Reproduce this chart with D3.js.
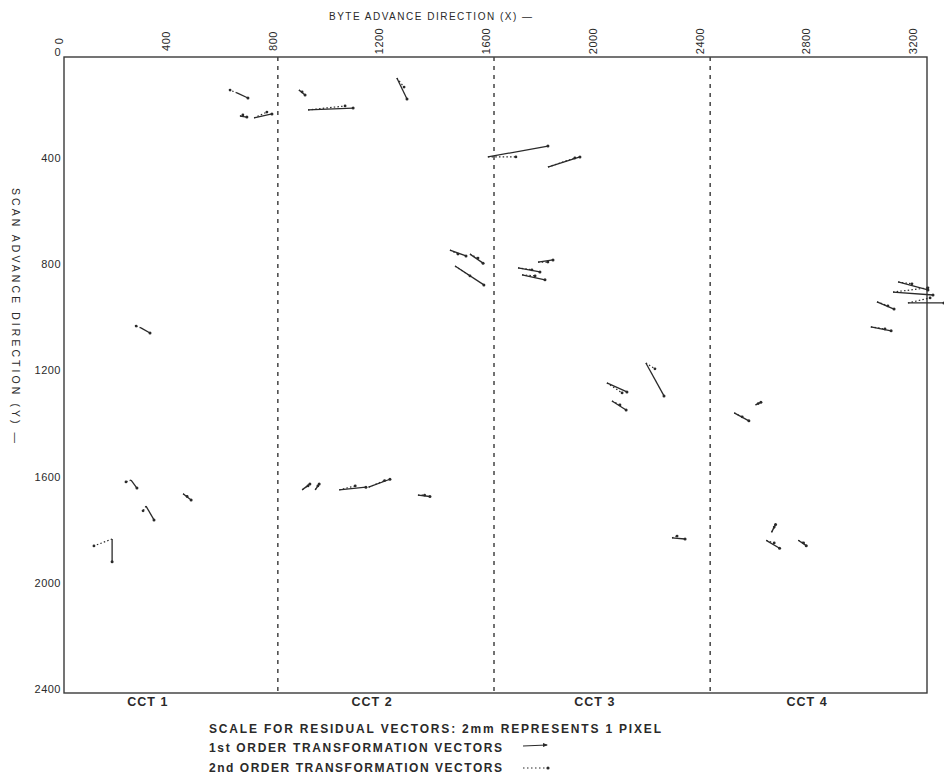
<!DOCTYPE html>
<html><head><meta charset="utf-8">
<script src="https://cdn.jsdelivr.net/npm/d3@7"></script>
<style>body{margin:0;background:#fff}svg{display:block}</style>
</head><body><svg id="c" width="944" height="779"></svg>
<script>
const xTicks=[0,400,800,1200,1600,2000,2400,2800,3200];
const yTicks=[0,400,800,1200,1600,2000,2400];
const cctBoundaries=[820,1630,2440];
const cctLabels=["CCT 1","CCT 2","CCT 3","CCT 4"];
const cctCenters=[333,1173,2008,2803];
const controlPoints=[[667,155],[678,242],[731,249],[899,144],[933,219],[1266,99],
[270,1613],[326,1711],[465,1665],[199,1835],[307,1040],
[2053,1247],[2072,1315],[2199,1172],[2297,1831],
[3144,867],[3125,905],[3181,946],[3065,942],[3042,1036],
[1607,396],[1832,434],
[1465,747],[1540,762],[1484,807],
[1720,814],[1735,840],[1795,792],
[911,1650],[960,1650],[1050,1650],[1160,1640],[1345,1670],
[2530,1360],[2610,1330],[2650,1840],[2670,1810],[2770,1840]];
const firstOrderEnds=[[708,174],[704,246],[798,234],[922,163],[1102,212],[1304,178],
[292,1643],[356,1763],[495,1688],[199,1921],[341,1059],
[2128,1281],[2125,1349],[2267,1296],[2346,1835],
[3256,897],[3275,916],[3316,946],[3129,969],[3118,1051],
[1832,355],[1952,396],
[1525,769],[1589,796],[1592,878],
[1802,829],[1821,859],[1851,784],
[940,1628],[975,1628],[1150,1640],[1240,1610],[1390,1675],
[2585,1390],[2630,1320],[2700,1870],[2685,1780],[2800,1860]];
const secondOrderEnds=[[641,144],[689,238],[779,227],[911,151],[1072,204],[1293,133],
[251,1620],[315,1729],[480,1675],[131,1861],[289,1033],
[2110,1285],[2102,1330],[2233,1194],[2316,1824],
[3196,874],[3256,889],[3264,927],[3106,957],[3095,1044],
[1712,396],[1933,400],
[1495,762],[1570,777],[1540,844],
[1772,821],[1784,844],[1832,792],
[933,1635],[970,1635],[1110,1635],[1220,1615],[1370,1670],
[2560,1375],[2620,1325],[2680,1850],[2680,1790],[2790,1850]];
const legendLines=["SCALE FOR RESIDUAL VECTORS: 2mm REPRESENTS 1 PIXEL","1st ORDER TRANSFORMATION VECTORS","2nd ORDER TRANSFORMATION VECTORS"];

const svg=d3.select("#c");
const ink="#2a2a2a";
const font="'Liberation Sans', Arial, sans-serif";
const x=d3.scaleLinear().domain([0,3200]).range([59,913]);
const y=d3.scaleLinear().domain([0,2400]).range([51.8,689]);
const frame={x0:64,x1:927,y0:57,y1:693};

svg.append("rect").attr("width",944).attr("height",779).attr("fill","#fff");
svg.append("rect").attr("x",frame.x0).attr("y",frame.y0).attr("width",frame.x1-frame.x0).attr("height",frame.y1-frame.y0)
 .attr("fill","none").attr("stroke","#3a3a3a").attr("stroke-width",1.4);
svg.selectAll("line.b").data(cctBoundaries).join("line").attr("class","b")
 .attr("x1",d=>x(d)).attr("x2",d=>x(d)).attr("y1",frame.y0).attr("y2",frame.y1)
 .attr("stroke","#444").attr("stroke-width",1.5).attr("stroke-dasharray","4,5");
svg.selectAll("text.xt").data(xTicks).join("text").attr("class","xt")
 .attr("transform",d=>`translate(${x(d)},41) rotate(-90)`)
 .attr("dominant-baseline","central").attr("text-anchor","middle")
 .attr("font-family",font).attr("font-size",11).attr("fill",ink).attr("letter-spacing",0.5)
 .text(d=>d);
svg.selectAll("text.yt").data(yTicks).join("text").attr("class","yt")
 .attr("x",61).attr("y",d=>y(d)).attr("dominant-baseline","central").attr("text-anchor","end")
 .attr("font-family",font).attr("font-size",11).attr("fill",ink).attr("letter-spacing",0.5)
 .text(d=>d);
svg.append("text").attr("x",329).attr("y",16).attr("dominant-baseline","central")
 .attr("font-family",font).attr("font-size",10).attr("fill",ink)
 .attr("textLength",203).attr("lengthAdjust","spacing").text("BYTE ADVANCE DIRECTION (X) \u2014");
svg.append("text").attr("transform","translate(16,188) rotate(90)").attr("dominant-baseline","central")
 .attr("font-family",font).attr("font-size",10.5).attr("fill",ink)
 .attr("textLength",255).attr("lengthAdjust","spacing").text("SCAN ADVANCE DIRECTION (Y) \u2014");
svg.selectAll("text.cct").data(cctLabels).join("text").attr("class","cct")
 .attr("x",(d,i)=>x(cctCenters[i])).attr("y",702).attr("text-anchor","middle").attr("dominant-baseline","central")
 .attr("font-family",font).attr("font-weight","bold").attr("font-size",12.5).attr("fill",ink).attr("letter-spacing",1)
 .text(d=>d);
const ly=[729,748,768];
svg.selectAll("text.lg").data(legendLines).join("text").attr("class","lg")
 .attr("x",209).attr("y",(d,i)=>ly[i]).attr("dominant-baseline","central")
 .attr("font-family",font).attr("font-weight","bold").attr("font-size",12).attr("fill",ink)
 .attr("textLength",(d,i)=>i==0?452:293).attr("lengthAdjust","spacing")
 .text(d=>d);
svg.append("line").attr("x1",523).attr("x2",547).attr("y1",746).attr("y2",745).attr("stroke",ink).attr("stroke-width",1.2);
svg.append("path").attr("d","M548,745 l-5,-2 l0,4 z").attr("fill",ink);
svg.append("line").attr("x1",523).attr("x2",546).attr("y1",768).attr("y2",768).attr("stroke",ink).attr("stroke-width",1.2).attr("stroke-dasharray","1.5,2.5");
svg.append("circle").attr("cx",548).attr("cy",768).attr("r",1.6).attr("fill",ink);

const vec=controlPoints.map((p,i)=>({p,a:firstOrderEnds[i],b:secondOrderEnds[i]}));
const g=svg.append("g");
g.selectAll("line.v2").data(vec).join("line").attr("class","v2")
 .attr("x1",d=>x(d.p[0])).attr("y1",d=>y(d.p[1])).attr("x2",d=>x(d.b[0])).attr("y2",d=>y(d.b[1]))
 .attr("stroke",ink).attr("stroke-width",1.2).attr("stroke-dasharray","1.5,2.2");
g.selectAll("circle.e2").data(vec).join("circle").attr("class","e2")
 .attr("cx",d=>x(d.b[0])).attr("cy",d=>y(d.b[1])).attr("r",1.4).attr("fill",ink);
g.selectAll("line.v1").data(vec).join("line").attr("class","v1")
 .attr("x1",d=>x(d.p[0])).attr("y1",d=>y(d.p[1])).attr("x2",d=>x(d.a[0])).attr("y2",d=>y(d.a[1]))
 .attr("stroke",ink).attr("stroke-width",1.3);
g.selectAll("circle.e1").data(vec).join("circle").attr("class","e1")
 .attr("cx",d=>x(d.a[0])).attr("cy",d=>y(d.a[1])).attr("r",1.5).attr("fill",ink);
</script></body></html>
